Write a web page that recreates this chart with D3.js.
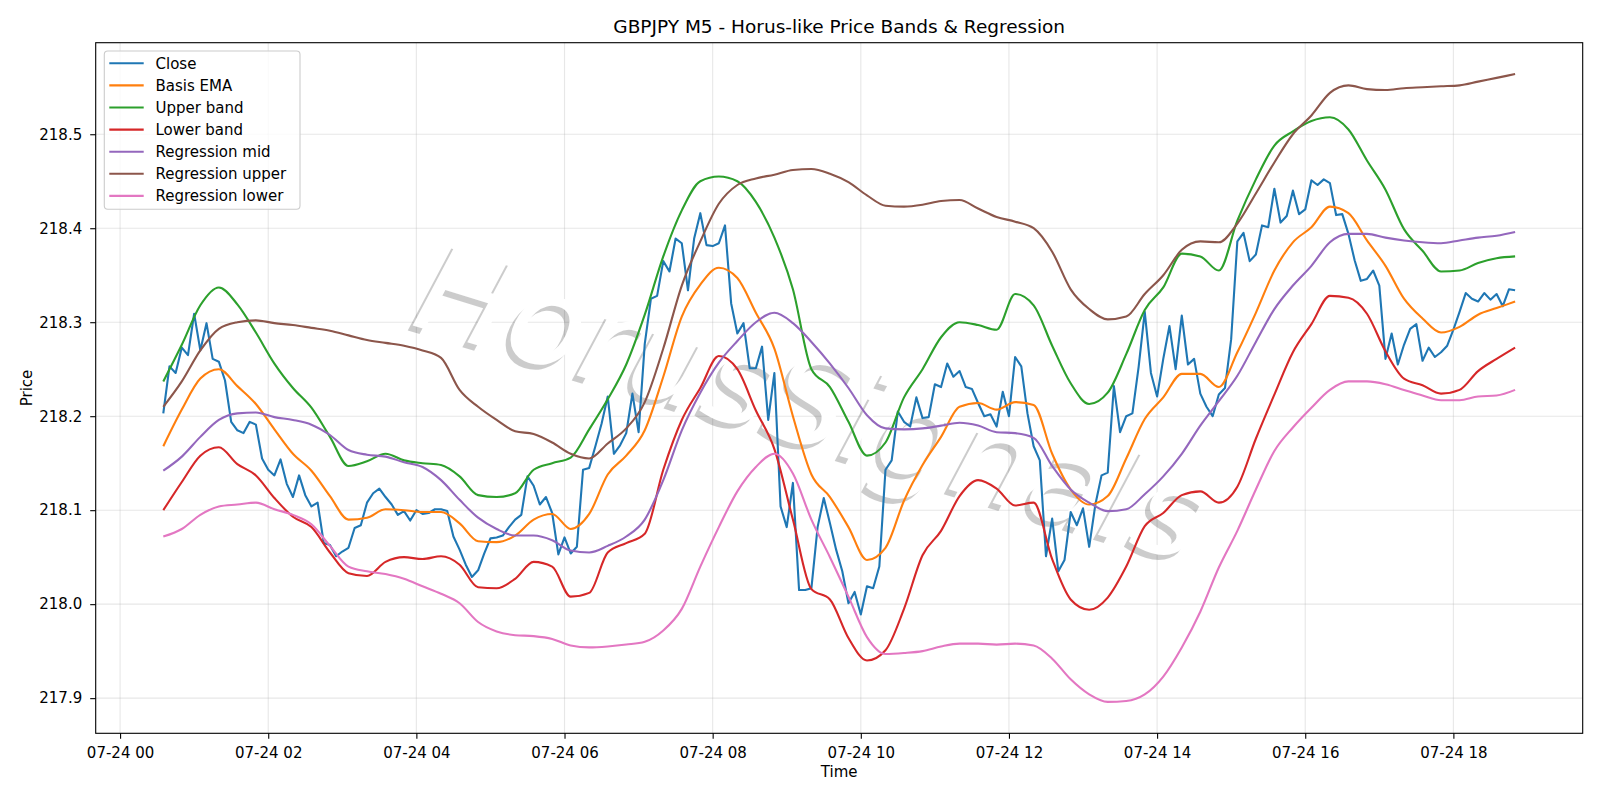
<!DOCTYPE html>
<html><head><meta charset="utf-8">
<script src="https://cdn.jsdelivr.net/npm/d3@7"></script>
<style>
html,body{margin:0;padding:0;background:#fff;}
svg{display:block;font-family:"DejaVu Sans",sans-serif;}
</style></head><body>
<svg id="chart" width="1600" height="800"></svg>
<script>
// ---------- DATA ----------
const chartTitle = "GBPJPY M5 - Horus-like Price Bands & Regression";
const seriesNames = ["Close","Basis EMA","Upper band","Lower band","Regression mid","Regression upper","Regression lower"];
const seriesColors = ["#1f77b4","#ff7f0e","#2ca02c","#d62728","#9467bd","#8c564b","#e377c2"];
const firstBar = new Date(2025, 6, 24, 0, 35);   // 07-24 00:35
const closeStepMin = 5;                           // close sampled every bar (5 min)
const bandStepMin = 15;                           // smooth series read every 15 min

const closeValues = [
218.203,218.253,218.246,218.273,218.265,218.309,218.270,218.299,218.261,218.258,
218.238,218.194,218.185,218.182,218.194,218.191,218.155,218.143,218.137,218.154,
218.128,218.114,218.137,218.116,218.104,218.108,218.065,218.063,218.051,218.056,
218.060,218.081,218.084,218.108,218.118,218.123,218.114,218.106,218.095,218.099,
218.089,218.100,218.096,218.097,218.101,218.101,218.099,218.072,218.058,218.042,
218.029,218.036,218.054,218.070,218.071,218.073,218.082,218.090,218.095,218.136,
218.126,218.106,218.114,218.097,218.053,218.071,218.054,218.061,218.143,218.145,
218.168,218.192,218.221,218.160,218.169,218.182,218.224,218.183,218.277,218.325,
218.328,218.365,218.354,218.389,218.384,218.334,218.389,218.416,218.382,218.381,
218.384,218.403,218.320,218.288,218.299,218.251,218.251,218.274,218.196,218.246,
218.104,218.082,218.129,218.015,218.015,218.017,218.082,218.113,218.086,218.058,
218.035,218.001,218.013,217.989,218.019,218.017,218.040,218.143,218.153,218.205,
218.194,218.189,218.220,218.198,218.199,218.234,218.231,218.256,218.242,218.248,
218.231,218.229,218.214,218.200,218.202,218.189,218.226,218.200,218.263,218.253,
218.203,218.168,218.153,218.051,218.091,218.035,218.047,218.098,218.084,218.102,
218.061,218.106,218.137,218.140,218.232,218.183,218.200,218.203,218.252,218.311,
218.246,218.221,218.261,218.296,218.250,218.307,218.255,218.261,218.224,218.210,
218.200,218.223,218.230,218.282,218.386,218.395,218.365,218.372,218.403,218.401,
218.442,218.406,218.413,218.440,218.415,218.420,218.451,218.446,218.452,218.448,
218.414,218.415,218.394,218.366,218.344,218.346,218.355,218.339,218.261,218.288,
218.255,218.276,218.293,218.298,218.259,218.273,218.263,218.268,218.275,218.292,
218.311,218.331,218.325,218.322,218.331,218.324,218.330,218.317,218.335,218.334];

const basisEma = [
218.168,218.207,218.240,218.250,218.232,218.213,218.186,218.160,218.142,218.115,
218.090,218.092,218.101,218.100,218.098,218.098,218.086,218.067,218.066,218.073,
218.090,218.096,218.080,218.096,218.138,218.158,218.185,218.242,218.306,218.340,
218.358,218.347,218.310,218.272,218.200,218.138,218.114,218.082,218.047,218.060,
218.110,218.148,218.178,218.210,218.214,218.207,218.215,218.212,218.160,218.122,
218.106,218.115,218.155,218.197,218.220,218.245,218.245,218.231,218.268,218.310,
218.355,218.385,218.401,218.423,218.416,218.387,218.360,218.325,218.304,218.289,
218.295,218.308,218.315,218.322];

const upperBand = [
218.237,218.276,218.318,218.337,218.319,218.289,218.256,218.230,218.209,218.178,
218.147,218.152,218.160,218.153,218.150,218.148,218.136,218.116,218.114,218.118,
218.143,218.150,218.156,218.186,218.218,218.255,218.308,218.370,218.419,218.450,
218.455,218.450,218.428,218.390,218.335,218.250,218.231,218.194,218.158,218.172,
218.220,218.250,218.284,218.300,218.297,218.292,218.330,218.318,218.275,218.235,
218.213,218.225,218.266,218.313,218.337,218.373,218.370,218.355,218.408,218.452,
218.488,218.503,218.514,218.518,218.505,218.472,218.441,218.399,218.376,218.354,
218.355,218.363,218.368,218.370];

const lowerBand = [
218.100,218.130,218.158,218.167,218.149,218.137,218.113,218.093,218.082,218.055,
218.033,218.030,218.045,218.050,218.048,218.051,218.042,218.018,218.017,218.027,
218.045,218.040,218.008,218.012,218.055,218.065,218.075,218.143,218.196,218.230,
218.264,218.250,218.206,218.165,218.090,218.016,218.005,217.964,217.940,217.951,
217.995,218.052,218.078,218.115,218.132,218.123,218.105,218.108,218.048,218.005,
217.994,218.007,218.040,218.083,218.097,218.116,218.120,218.108,218.125,218.176,
218.223,218.268,218.298,218.328,218.326,218.309,218.269,218.240,218.233,218.224,
218.228,218.248,218.261,218.273];

const regressionMid = [
218.142,218.157,218.178,218.196,218.203,218.204,218.199,218.196,218.191,218.180,
218.164,218.159,218.157,218.151,218.146,218.132,218.111,218.092,218.080,218.073,
218.073,218.068,218.057,218.055,218.062,218.072,218.090,218.132,218.185,218.225,
218.257,218.280,218.300,218.310,218.299,218.279,218.256,218.230,218.201,218.187,
218.186,218.187,218.190,218.193,218.190,218.183,218.182,218.177,218.147,218.122,
218.108,218.099,218.101,218.117,218.136,218.160,218.190,218.216,218.243,218.279,
218.314,218.339,218.360,218.385,218.394,218.394,218.390,218.387,218.385,218.384,
218.387,218.390,218.392,218.396];

const regressionUpper = [
218.210,218.237,218.270,218.293,218.300,218.302,218.299,218.297,218.294,218.291,
218.286,218.281,218.278,218.275,218.270,218.262,218.228,218.210,218.196,218.184,
218.181,218.172,218.160,218.155,218.171,218.187,218.215,218.272,218.339,218.386,
218.426,218.446,218.453,218.457,218.462,218.463,218.458,218.449,218.435,218.424,
218.423,218.425,218.429,218.430,218.421,218.412,218.407,218.400,218.375,218.335,
218.314,218.303,218.306,218.330,218.350,218.377,218.386,218.385,218.405,218.437,
218.470,218.500,218.520,218.544,218.552,218.548,218.547,218.549,218.550,218.551,
218.552,218.556,218.560,218.564];

const regressionLower = [
218.072,218.080,218.095,218.104,218.106,218.108,218.101,218.095,218.085,218.062,
218.040,218.035,218.032,218.027,218.019,218.011,218.001,217.981,217.971,217.967,
217.966,217.963,217.956,217.954,217.955,217.957,217.960,217.972,217.995,218.040,
218.082,218.120,218.146,218.160,218.139,218.090,218.050,218.008,217.965,217.947,
217.948,217.950,217.955,217.958,217.958,217.957,217.958,217.956,217.942,217.920,
217.904,217.896,217.897,217.904,217.923,217.954,217.992,218.039,218.078,218.122,
218.163,218.188,218.209,218.228,218.237,218.237,218.234,218.228,218.222,218.217,
218.217,218.221,218.222,218.228];

const yTickValues = [217.9, 218.0, 218.1, 218.2, 218.3, 218.4, 218.5];
const xTickFormat = "%m-%d %H";
const watermarkText = "HorusSignals";

// ---------- BUILD ----------
const closeTimes = closeValues.map((_, i) => d3.timeMinute.offset(firstBar, i * closeStepMin));
const bandTimes = basisEma.map((_, i) => d3.timeMinute.offset(firstBar, i * bandStepMin));
const bandSeries = [basisEma, upperBand, lowerBand, regressionMid, regressionUpper, regressionLower];
const allSeries = [closeValues.map((v, i) => [closeTimes[i], v])]
  .concat(bandSeries.map(arr => arr.map((v, i) => [bandTimes[i], v])));

const svg = d3.select("#chart");
const L = 95.7, R = 1582.7, T = 42.7, B = 733.3;

const tExt = d3.extent(closeTimes);
const span = tExt[1] - tExt[0];
const x = d3.scaleTime()
  .domain([new Date(+tExt[0] - 0.05 * span), new Date(+tExt[1] + 0.05 * span)])
  .range([L, R]);
const allVals = allSeries.flat().map(d => d[1]);
const vMin = d3.min(allVals), vMax = d3.max(allVals), vr = vMax - vMin;
const y = d3.scaleLinear().domain([vMin - 0.05 * vr, vMax + 0.05 * vr]).range([B, T]);

const xTicks = x.ticks(d3.timeHour.every(2));

// grid
const grid = svg.append("g");
grid.selectAll("line.gx").data(xTicks).join("line")
  .attr("x1", d => x(d)).attr("x2", d => x(d)).attr("y1", T).attr("y2", B)
  .attr("stroke", "#b0b0b0").attr("stroke-opacity", 0.3).attr("stroke-width", 1.1);
grid.selectAll("line.gy").data(yTickValues).join("line")
  .attr("y1", d => y(d)).attr("y2", d => y(d)).attr("x1", L).attr("x2", R)
  .attr("stroke", "#b0b0b0").attr("stroke-opacity", 0.3).attr("stroke-width", 1.1);

// watermark (gray shadow under a white face, beneath the data lines)
const wmCx = 812, wmCy = 402, wmRot = 17;
const wmShadow = svg.append("g").attr("transform", `translate(${wmCx - 5},${wmCy + 5}) rotate(${wmRot})`);
wmShadow.append("text").text(watermarkText)
  .attr("text-anchor", "middle").attr("dominant-baseline", "central")
  .attr("font-size", 125).attr("font-style", "italic")
  .attr("fill", "#000").attr("fill-opacity", 0.2);
const wmFace = svg.append("g").attr("transform", `translate(${wmCx},${wmCy}) rotate(${wmRot})`);
wmFace.append("text").text(watermarkText)
  .attr("text-anchor", "middle").attr("dominant-baseline", "central")
  .attr("font-size", 125).attr("font-style", "italic")
  .attr("fill", "#fff");

// lines
const straight = d3.line().x(d => x(d[0])).y(d => y(d[1]));
const smooth = d3.line().x(d => x(d[0])).y(d => y(d[1])).curve(d3.curveMonotoneX);
svg.append("g").selectAll("path").data(allSeries).join("path")
  .attr("d", (d, i) => i === 0 ? straight(d) : smooth(d)).attr("fill", "none")
  .attr("stroke", (d, i) => seriesColors[i])
  .attr("stroke-width", 2.1).attr("stroke-linejoin", "round").attr("stroke-linecap", "butt");

// axes
const xAxis = d3.axisBottom(x).tickValues(xTicks).tickFormat(d3.timeFormat(xTickFormat))
  .tickSizeInner(5.5).tickSizeOuter(0).tickPadding(5);
const gx = svg.append("g").attr("transform", `translate(0,${B})`).call(xAxis);
gx.select(".domain").remove();
gx.selectAll("line").attr("stroke", "#000").attr("stroke-width", 1.1);
gx.selectAll("text").attr("font-size", 15).attr("fill", "#000")
  .attr("font-family", "DejaVu Sans").attr("dy", "0.95em");

const yAxis = d3.axisLeft(y).tickValues(yTickValues).tickFormat(d3.format(".1f"))
  .tickSizeInner(5.5).tickSizeOuter(0).tickPadding(8);
const gy = svg.append("g").attr("transform", `translate(${L},0)`).call(yAxis);
gy.select(".domain").remove();
gy.selectAll("line").attr("stroke", "#000").attr("stroke-width", 1.1);
gy.selectAll("text").attr("font-size", 15).attr("fill", "#000")
  .attr("font-family", "DejaVu Sans");

// frame
svg.append("rect").attr("x", L).attr("y", T).attr("width", R - L).attr("height", B - T)
  .attr("fill", "none").attr("stroke", "#000").attr("stroke-width", 1.1);

// labels
svg.append("text").text(chartTitle).attr("x", (L + R) / 2).attr("y", 33)
  .attr("text-anchor", "middle").attr("font-size", 18.5).attr("fill", "#000");
svg.append("text").text("Time").attr("x", (L + R) / 2).attr("y", 777)
  .attr("text-anchor", "middle").attr("font-size", 15).attr("fill", "#000");
svg.append("text").text("Price")
  .attr("transform", `translate(32,${(T + B) / 2}) rotate(-90)`)
  .attr("text-anchor", "middle").attr("font-size", 15).attr("fill", "#000");

// legend
const lg = svg.append("g");
lg.append("rect").attr("x", 104.3).attr("y", 51).attr("width", 195.7).attr("height", 158.3)
  .attr("rx", 3.5).attr("fill", "#fff").attr("fill-opacity", 0.8)
  .attr("stroke", "#cccccc").attr("stroke-width", 1.1);
seriesNames.forEach((name, i) => {
  const cy = 63.3 + i * 22.1;
  lg.append("line").attr("x1", 109.3).attr("x2", 143.7).attr("y1", cy).attr("y2", cy)
    .attr("stroke", seriesColors[i]).attr("stroke-width", 2.1);
  lg.append("text").text(name).attr("x", 155.5).attr("y", cy + 5.4)
    .attr("font-size", 15).attr("fill", "#000");
});
</script>
</body></html>
